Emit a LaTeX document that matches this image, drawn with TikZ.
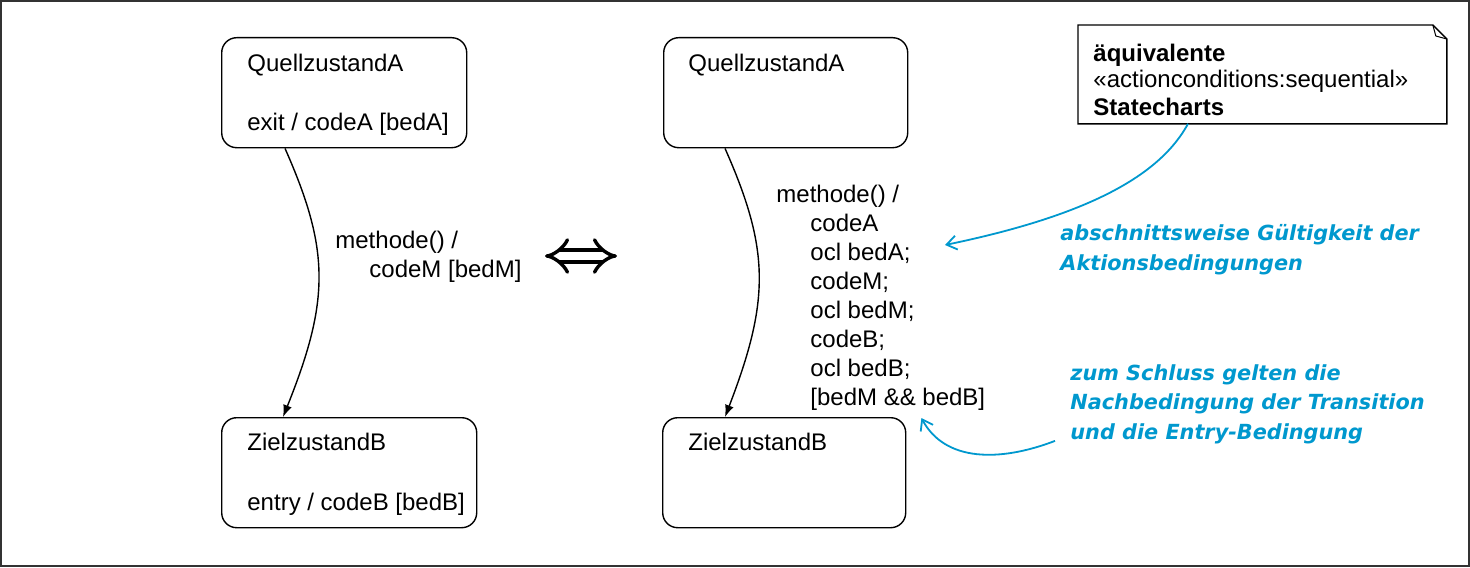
\documentclass[tikz,border=0pt]{standalone}
\usepackage{fontspec}
\setmainfont{Liberation Sans}
\newfontfamily\handfont{DejaVu Sans}
\usetikzlibrary{calc,arrows.meta,positioning}
\definecolor{hintBlue}{RGB}{0,152,206}
\definecolor{frameGray}{RGB}{51,51,51}

\begin{document}
\begin{tikzpicture}[x=0.5pt,y=-0.5pt,
  zustand/.style={draw, line width=0.7pt, rounded corners=7.5pt, minimum width=#1,
    minimum height=55pt, inner sep=0pt, anchor=north west},
  ztext/.style={anchor=base west, inner sep=0pt, align=left, font=\fontsize{12}{14.5}\selectfont},
  notetext/.style={anchor=base west, inner sep=0pt, align=left, font=\fontsize{12}{13.5}\selectfont},
  trans/.style={line width=0.7pt, -{Latex[length=6pt,width=4.5pt]}},
  hint/.style={anchor=base west, inner sep=0pt, align=left, text=hintBlue,
    font=\handfont\bfseries\itshape\fontsize{10.4}{14.75}\selectfont},
  hintarrow/.style={hintBlue, line width=0.9pt, -{Straight Barb[length=5pt,width=7pt]}}]
\useasboundingbox (0,0) rectangle (1470,567);
\draw[frameGray, line width=0.8pt] (1,1) rectangle (1469,566);

% linke Seite
\node[zustand=122.5pt] (qa1) at (221,37) {};
\node[ztext] (qa1txt) at ($(qa1.north west)+(26,93)$) {QuellzustandA\\[14.5pt]exit / codeA [bedA]};
\node[zustand=127.5pt] (zb1) at (221,417) {};
\node[ztext] (zb1txt) at ($(zb1.north west)+(26,93)$) {ZielzustandB\\[15.5pt]entry / codeB [bedB]};
\draw[trans] ($(qa1.south west)+(64,0)$) .. controls (330,250) and (330,300) .. ($(zb1.north west)+(62,0)$);
\node[ztext] (t1txt) at (335,277) {methode() /\\\hspace*{17pt}codeM [bedM]};

% Aequivalenz
\coordinate (eqL) at (545,256);
\coordinate (eqR) at (617,256);
\draw[line width=1.7pt, double distance=4.4pt, {Implies}-{Implies}] (eqL) -- (eqR);

% rechte Seite
\node[zustand=122pt] (qa2) at (663,37) {};
\node[ztext] (qa2txt) at ($(qa2.north west)+(25,35)$) {QuellzustandA};
\node[zustand=121.5pt] (zb2) at (662,417) {};
\node[ztext] (zb2txt) at ($(zb2.north west)+(26,33)$) {ZielzustandB};
\draw[trans] ($(qa2.south west)+(62,0)$) .. controls (770,250) and (770,300) .. ($(zb2.north west)+(63,0)$);
\node[ztext] (t2txt) at (776,405) {methode() /\\
  \hspace*{17pt}codeA\\
  \hspace*{17pt}ocl bedA;\\
  \hspace*{17pt}codeM;\\
  \hspace*{17pt}ocl bedM;\\
  \hspace*{17pt}codeB;\\
  \hspace*{17pt}ocl bedB;\\
  \hspace*{17pt}[bedM \&\& bedB]};

% Notiz
\node[minimum width=184pt, minimum height=49pt, inner sep=0pt, anchor=north west] (note) at (1078,25) {};
\draw[line width=0.7pt] (note.north west) -- ($(note.north east)+(-14,0)$) -- ($(note.north east)+(0,14)$)
  -- (note.south east) -- (note.south west) -- cycle;
\draw[line width=0.5pt] ($(note.north east)+(-14,0)$) -- ($(note.north east)+(-11,11)$) -- ($(note.north east)+(0,14)$);
\node[notetext] (notetxt) at ($(note.north west)+(15,90)$) {\textbf{äquivalente}\\«actionconditions:sequential»\\\textbf{Statecharts}};

% Hinweise
\node[hint] (hint1) at (1060,270) {abschnittsweise Gültigkeit der\\Aktionsbedingungen};
\node[hint] (hint2) at (1070,439) {zum Schluss gelten die\\Nachbedingung der Transition\\und die Entry-Bedingung};
\coordinate (gueltig) at (945,245);
\draw[hintarrow] ($(note.south west)+(110,0)$) .. controls (1160,175) and (1090,215) .. (gueltig);
\draw[hintarrow] ($(hint2.south west)+(-15,-3)$) .. controls (1000,462) and (945,462) .. ($(zb2.north east)+(15,1)$);
\end{tikzpicture}
\end{document}
